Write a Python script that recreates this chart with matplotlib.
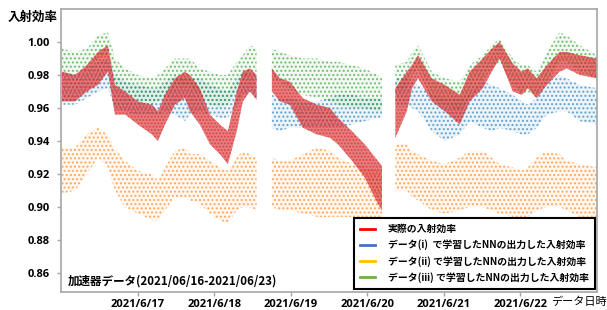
import numpy as np
import pandas as pd
import matplotlib
matplotlib.use("Agg")
import matplotlib.pyplot as plt
from matplotlib.lines import Line2D

plt.rcParams['font.family'] = ['Noto Sans CJK JP', 'DejaVu Sans']
plt.rcParams['hatch.linewidth'] = 1.0

nan = np.nan

# hours after 2021/06/16 00:00 (nan rows = data gaps)
hours = [0.3, 4.4, 8.1, 11.6, 14.7, 16.9, 20.1, 24.1, 28.5, 30.4, 32.6, 35.7,
         38.8, 40.4, 43.5, 46.7, 49.8, 52.3, 55.1, 57.0, 59.2, 61.3, 63.5,
         66.1, 68.6, 71.7, 75.8, 80.2, 84.3, 86.8, 91.2, 95.2, 99.3, 100.6, 102.7,
         104.8, 108.4, 110.0, 111.9, 116.2, 120.3, 125.0, 128.1, 132.2, 135.0,
         137.5, 141.6, 144.4, 146.3, 149.1, 152.3, 156.3, 158.5, 162.6, 168.0]

# actual injection efficiency (lower / upper edge of the point cloud)
real_lo = [0.964, 0.964, 0.970, 0.974, 0.982, 0.956, 0.956, 0.950, 0.944, 0.940, 0.950, 0.962,
           0.966, 0.958, 0.950, 0.938, 0.932, 0.926, 0.946, 0.964, 0.970, 0.965, nan,
           0.970, 0.964, 0.962, 0.948, 0.944, 0.942, 0.938, 0.928, 0.918, 0.902, 0.898, nan,
           0.942, 0.958, 0.972, 0.978, 0.964, 0.958, 0.950, 0.964, 0.972, 0.982,
           0.990, 0.970, 0.968, 0.972, 0.966, 0.974, 0.982, 0.984, 0.980, 0.978]
real_hi = [0.982, 0.980, 0.986, 0.994, 0.998, 0.974, 0.970, 0.964, 0.962, 0.958, 0.968, 0.978,
           0.982, 0.980, 0.972, 0.956, 0.950, 0.946, 0.970, 0.982, 0.984, 0.980, nan,
           0.984, 0.978, 0.976, 0.966, 0.962, 0.960, 0.954, 0.946, 0.938, 0.928, 0.925, nan,
           0.972, 0.982, 0.986, 0.992, 0.978, 0.974, 0.968, 0.982, 0.990, 0.996,
           1.000, 0.987, 0.982, 0.984, 0.978, 0.986, 0.994, 0.994, 0.992, 0.990]

# NN trained on data (i)
nn1_lo = [0.962, 0.962, 0.966, 0.970, 0.972, 0.960, 0.958, 0.956, 0.956, 0.956, 0.958, 0.956,
          0.952, 0.956, 0.958, 0.956, 0.954, 0.954, 0.962, 0.968, 0.970, 0.966, nan,
          0.948, 0.946, 0.948, 0.948, 0.948, 0.948, 0.948, 0.950, 0.952, 0.954, 0.954, nan,
          0.962, 0.962, 0.960, 0.958, 0.946, 0.940, 0.944, 0.952, 0.948, 0.946,
          0.948, 0.946, 0.944, 0.944, 0.948, 0.956, 0.958, 0.958, 0.952, 0.950]
nn1_hi = [0.982, 0.980, 0.984, 0.988, 0.990, 0.980, 0.976, 0.974, 0.972, 0.972, 0.976, 0.980,
          0.978, 0.978, 0.978, 0.974, 0.972, 0.970, 0.978, 0.982, 0.982, 0.980, nan,
          0.968, 0.966, 0.966, 0.964, 0.964, 0.966, 0.968, 0.968, 0.966, 0.966, 0.966, nan,
          0.978, 0.978, 0.976, 0.974, 0.968, 0.966, 0.966, 0.968, 0.976, 0.974,
          0.972, 0.968, 0.964, 0.962, 0.966, 0.976, 0.980, 0.978, 0.974, 0.972]

# NN trained on data (ii)
nn2_lo = [0.908, 0.910, 0.920, 0.930, 0.924, 0.910, 0.900, 0.896, 0.892, 0.892, 0.898, 0.906,
          0.906, 0.904, 0.902, 0.896, 0.892, 0.890, 0.898, 0.900, 0.900, 0.898, nan,
          0.900, 0.898, 0.898, 0.896, 0.894, 0.894, 0.894, 0.894, 0.894, 0.894, 0.894, nan,
          0.910, 0.910, 0.906, 0.904, 0.898, 0.896, 0.898, 0.900, 0.900, 0.898,
          0.896, 0.894, 0.894, 0.894, 0.898, 0.900, 0.900, 0.898, 0.894, 0.894]
nn2_hi = [0.936, 0.936, 0.944, 0.948, 0.944, 0.935, 0.928, 0.922, 0.920, 0.916, 0.924, 0.934,
          0.936, 0.932, 0.932, 0.928, 0.924, 0.922, 0.930, 0.934, 0.932, 0.930, nan,
          0.930, 0.928, 0.928, 0.932, 0.936, 0.934, 0.930, 0.926, 0.924, 0.922, 0.922, nan,
          0.938, 0.938, 0.934, 0.932, 0.928, 0.926, 0.930, 0.934, 0.934, 0.930,
          0.926, 0.924, 0.922, 0.924, 0.930, 0.934, 0.932, 0.928, 0.926, 0.924]

# NN trained on data (iii)
nn3_lo = [0.980, 0.980, 0.984, 0.990, 0.992, 0.974, 0.970, 0.964, 0.962, 0.964, 0.966, 0.974,
          0.974, 0.974, 0.968, 0.962, 0.960, 0.962, 0.970, 0.976, 0.982, 0.980, nan,
          0.978, 0.976, 0.972, 0.968, 0.966, 0.964, 0.962, 0.960, 0.960, 0.958, 0.958, nan,
          0.970, 0.972, 0.980, 0.984, 0.966, 0.962, 0.958, 0.966, 0.976, 0.984,
          0.988, 0.974, 0.968, 0.970, 0.966, 0.976, 0.988, 0.988, 0.982, 0.978]
nn3_hi = [0.996, 0.994, 0.996, 1.004, 1.006, 0.990, 0.984, 0.980, 0.978, 0.980, 0.984, 0.990,
          0.990, 0.990, 0.984, 0.982, 0.980, 0.980, 0.988, 0.992, 0.998, 0.996, nan,
          0.996, 0.994, 0.992, 0.990, 0.990, 0.988, 0.988, 0.986, 0.984, 0.980, 0.978, nan,
          0.986, 0.988, 0.994, 0.998, 0.982, 0.978, 0.976, 0.986, 0.992, 0.998,
          1.002, 0.990, 0.986, 0.986, 0.982, 0.994, 1.006, 1.004, 0.998, 0.992]

tick_days = ['2021-06-17', '2021-06-18', '2021-06-19', '2021-06-20', '2021-06-21', '2021-06-22']
tick_labels = ['2021/6/17', '2021/6/18', '2021/6/19', '2021/6/20', '2021/6/21', '2021/6/22']
y_ticks = [0.86, 0.88, 0.90, 0.92, 0.94, 0.96, 0.98, 1.00]
legend_labels = ['実際の入射効率',
                 'データ(i)  で学習したNNの出力した入射効率',
                 'データ(ii) で学習したNNの出力した入射効率',
                 'データ(iii) で学習したNNの出力した入射効率']

t0 = pd.Timestamp('2021-06-16')
times = t0 + pd.to_timedelta(hours, unit='h')

fig = plt.figure(figsize=(6.07, 3.10), dpi=100)
ax = fig.add_axes([61 / 607, 1 - 292 / 310, 536 / 607, 283 / 310])

# clouds drawn as dotted bands, bottom layer first
layers = [
    (nn2_lo, nn2_hi, '#ff7f0e', 0.06, '....'),
    (nn1_lo, nn1_hi, '#1f77b4', 0.08, '....'),
    (nn3_lo, nn3_hi, '#2ca02c', 0.06, '....'),
    (real_lo, real_hi, '#d62728', 0.6, '.....'),
]
for lo, hi, col, a, h in layers:
    lo = np.array(lo)
    hi = np.array(hi)
    ax.fill_between(times, lo, hi, facecolor=col, alpha=a, linewidth=0)
    ax.fill_between(times, lo, hi, facecolor='none', edgecolor=col, hatch=h,
                    linewidth=0, alpha=0.6)

ax.set_xlim(pd.Timestamp('2021-06-16'), pd.Timestamp('2021-06-23'))
ax.set_ylim(0.8485, 1.02)
ax.set_xticks(pd.to_datetime(tick_days))
ax.set_xticklabels(tick_labels)
ax.set_yticks(y_ticks)
ax.set_yticklabels([f'{v:.2f}' for v in y_ticks])
ax.tick_params(axis='both', labelsize=8, color='#a6a6a6', length=3, width=1,
               labelfontfamily='Open Sans')
for lab in ax.get_xticklabels() + ax.get_yticklabels():
    lab.set_fontweight('bold')
ax.tick_params(axis='y', pad=5)
ax.tick_params(axis='x', pad=2)
for s in ax.spines.values():
    s.set_color('#a6a6a6')
    s.set_linewidth(1.2)

fig.text(8 / 607, 1 - 17 / 310, '入射効率', fontsize=9, fontweight='bold', va='center', ha='left')
fig.text(551 / 607, 1 - 302 / 310, 'データ日時', fontsize=8, va='center', ha='left')
ax.text(0.013, 0.015, '加速器データ(2021/06/16-2021/06/23)', transform=ax.transAxes,
        fontsize=8.3, fontweight='bold', va='bottom', ha='left')

handles = [Line2D([], [], color=c, lw=2) for c in ['#ff0000', '#4472c4', '#ffc000', '#70ad47']]
leg = ax.legend(handles, legend_labels, loc='lower right', bbox_to_anchor=(0.996, 0.011),
                fancybox=False, framealpha=1, edgecolor='black',
                prop={'weight': 'bold', 'size': 7.1}, handlelength=1.5, labelspacing=0.55,
                borderpad=0.6, handletextpad=1.3, borderaxespad=0)
leg.get_frame().set_linewidth(1.5)

fig.savefig('out.png', dpi=100)
